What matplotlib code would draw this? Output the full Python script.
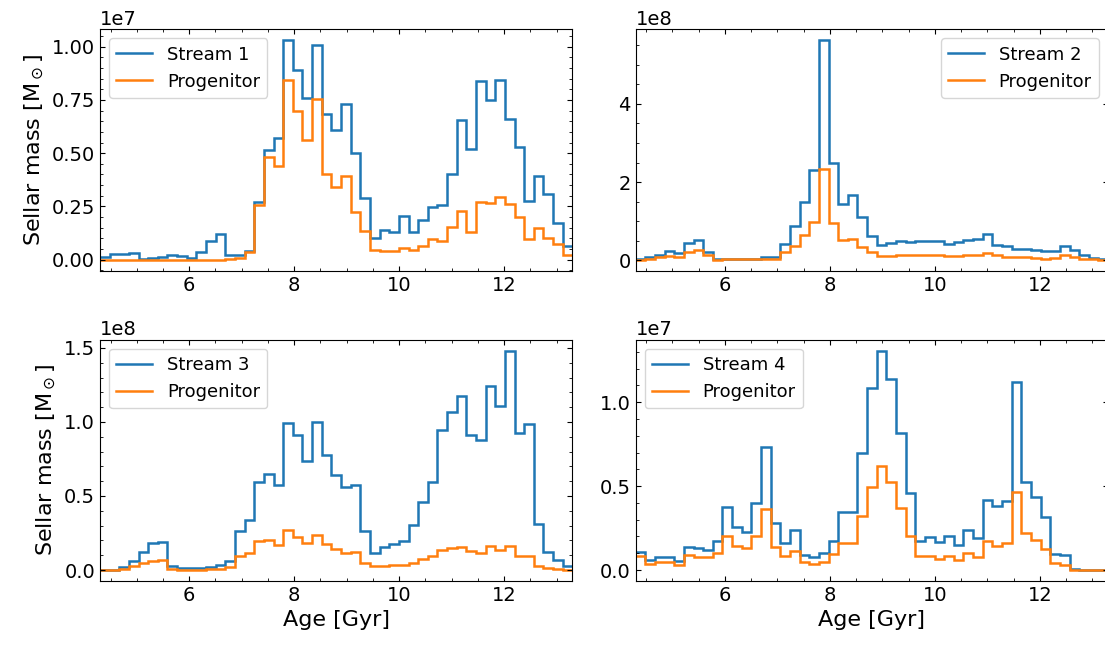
import numpy as np
import matplotlib
matplotlib.use("Agg")
import matplotlib.pyplot as plt
from matplotlib.ticker import MultipleLocator

# age bins (Gyr)
edges = np.linspace(4.3, 13.3, 50)

stream1 = [0.011, 0.027, 0.027, 0.03, 0.003, 0.006, 0.011, 0.022, 0.016, 0.008,
           0.034, 0.086, 0.121, 0.022, 0.022, 0.042, 0.27, 0.513, 0.572, 1.03,
           0.892, 0.759, 1.006, 0.685, 0.611, 0.732, 0.502, 0.288, 0.102, 0.14,
           0.129, 0.204, 0.132, 0.188, 0.249, 0.257, 0.403, 0.657, 0.52, 0.837,
           0.748, 0.845, 0.661, 0.531, 0.277, 0.395, 0.309, 0.172, 0.063]
prog1 = [0.0, 0.0, 0.0, 0.0, 0.0, 0.0, 0.0, 0.0, 0.0, 0.0,
         0.0, 0.0, 0.0, 0.002, 0.01, 0.034, 0.259, 0.484, 0.442, 0.842,
         0.697, 0.56, 0.755, 0.4, 0.34, 0.395, 0.223, 0.136, 0.045, 0.039,
         0.042, 0.053, 0.047, 0.066, 0.097, 0.089, 0.155, 0.23, 0.132, 0.27,
         0.268, 0.293, 0.262, 0.202, 0.097, 0.149, 0.102, 0.074, 0.022]

stream2 = [0.04, 0.085, 0.15, 0.23, 0.2, 0.45, 0.51, 0.21, 0.03, 0.05,
           0.05, 0.04, 0.05, 0.1, 0.1, 0.43, 0.89, 1.49, 2.3, 5.62,
           2.49, 1.43, 1.68, 1.11, 0.62, 0.4, 0.45, 0.49, 0.47, 0.5,
           0.5, 0.5, 0.41, 0.46, 0.51, 0.55, 0.67, 0.4, 0.36, 0.3,
           0.3, 0.26, 0.24, 0.23, 0.37, 0.27, 0.15, 0.06, 0.03]
prog2 = [0.02, 0.04, 0.085, 0.12, 0.1, 0.21, 0.26, 0.13, 0.02, 0.03,
         0.03, 0.035, 0.035, 0.05, 0.05, 0.21, 0.38, 0.66, 0.98, 2.34,
         0.96, 0.53, 0.55, 0.34, 0.21, 0.12, 0.12, 0.13, 0.13, 0.13,
         0.13, 0.13, 0.11, 0.12, 0.14, 0.15, 0.2, 0.13, 0.1, 0.085,
         0.08, 0.06, 0.05, 0.06, 0.13, 0.085, 0.05, 0.035, 0.02]

stream3 = [0.0, 0.0, 0.018, 0.059, 0.119, 0.18, 0.187, 0.029, 0.011, 0.011,
           0.014, 0.018, 0.036, 0.059, 0.261, 0.34, 0.592, 0.649, 0.574, 0.993,
           0.912, 0.739, 1.002, 0.779, 0.644, 0.563, 0.577, 0.261, 0.115, 0.153,
           0.176, 0.198, 0.306, 0.457, 0.592, 0.946, 1.065, 1.173, 0.914, 0.878,
           1.241, 1.11, 1.482, 0.926, 0.986, 0.311, 0.124, 0.068, 0.025]
prog3 = [0.0, 0.0, 0.007, 0.025, 0.045, 0.059, 0.07, 0.007, 0.0, 0.002,
         0.002, 0.004, 0.007, 0.018, 0.092, 0.115, 0.198, 0.205, 0.171, 0.273,
         0.225, 0.182, 0.239, 0.176, 0.142, 0.115, 0.119, 0.05, 0.025, 0.029,
         0.034, 0.034, 0.045, 0.074, 0.092, 0.135, 0.149, 0.158, 0.131, 0.115,
         0.16, 0.135, 0.164, 0.097, 0.097, 0.029, 0.014, 0.007, 0.0]

stream4 = [0.109, 0.06, 0.08, 0.08, 0.052, 0.139, 0.131, 0.121, 0.175, 0.378,
           0.258, 0.229, 0.398, 0.736, 0.28, 0.159, 0.241, 0.091, 0.08, 0.101,
           0.171, 0.348, 0.348, 0.696, 1.085, 1.308, 1.139, 0.817, 0.459, 0.171,
           0.195, 0.165, 0.205, 0.151, 0.241, 0.191, 0.417, 0.384, 0.41, 1.119,
           0.527, 0.433, 0.318, 0.095, 0.091, 0.006, 0.0, 0.0, 0.0]
prog4 = [0.082, 0.036, 0.05, 0.05, 0.032, 0.089, 0.08, 0.076, 0.101, 0.201,
         0.145, 0.129, 0.205, 0.364, 0.135, 0.082, 0.111, 0.046, 0.036, 0.046,
         0.095, 0.159, 0.161, 0.324, 0.493, 0.618, 0.523, 0.37, 0.205, 0.082,
         0.085, 0.066, 0.085, 0.06, 0.099, 0.076, 0.175, 0.145, 0.159, 0.467,
         0.221, 0.181, 0.125, 0.04, 0.03, 0.0, 0.0, 0.0, 0.0]

streams = [stream1, stream2, stream3, stream4]
progs = [prog1, prog2, prog3, prog4]
scales = [1e7, 1e8, 1e8, 1e7]
ystep = [0.25e7, 2e8, 0.5e8, 0.5e7]
names = ["Stream 1", "Stream 2", "Stream 3", "Stream 4"]
legend_loc = ["upper left", "upper right", "upper left", "upper left"]

fig = plt.figure(figsize=(11.05, 6.48), dpi=100)
lefts = [0.0905, 0.5753, 0.0905, 0.5753]
bottoms = [0.5823, 0.5823, 0.1034, 0.1034]

for k in range(4):
    ax = fig.add_axes([lefts[k], bottoms[k], 0.4275, 0.3725])
    s = np.array(streams[k]) * scales[k]
    p = np.array(progs[k]) * scales[k]
    ax.stairs(s, edges, baseline=None, color="C0", lw=1.8, label=names[k])
    ax.stairs(p, edges, baseline=None, color="C1", lw=1.8, label="Progenitor")
    ax.set_xlim(4.3, 13.3)
    ax.yaxis.set_major_locator(MultipleLocator(ystep[k]))
    ax.minorticks_on()
    ax.tick_params(which="both", direction="in", top=True, right=True, labelsize=14)
    ax.yaxis.get_offset_text().set_fontsize(14)
    ax.legend(loc=legend_loc[k], fontsize=13)
    if k % 2 == 0:
        ax.set_ylabel(r"Sellar mass [M$_\odot$]", fontsize=16)
    if k >= 2:
        ax.set_xlabel("Age [Gyr]", fontsize=16)

fig.savefig("out.png", dpi=100)
